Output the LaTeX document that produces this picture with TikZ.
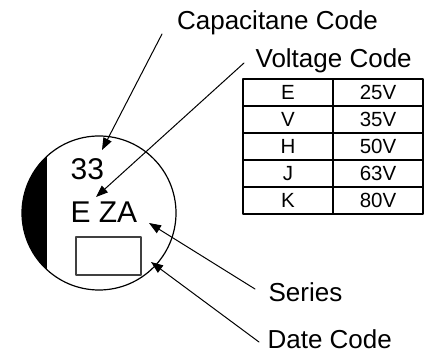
\documentclass[tikz,border=0pt]{standalone}
\usepackage{fontspec}
\setmainfont{Liberation Sans}
\usetikzlibrary{arrows.meta}

\tikzset{
  lbl/.style={anchor=base west, inner sep=0pt, font=\fontsize{26}{32}\selectfont},
  printtxt/.style={anchor=base west, inner sep=0pt, font=\fontsize{30}{36}\selectfont},
  cell/.style={draw, line width=1.2pt, minimum width=90pt, minimum height=27pt, inner sep=0pt,
               font=\fontsize{20.5}{25}\selectfont},
  ptr/.style={line width=1.0pt, -{Triangle[length=12pt, width=9pt]}}
}

\begin{document}
\begin{tikzpicture}[x=1pt, y=-1pt, line width=1.2pt, line cap=round, line join=round]

  %% ════ 电容顶面（圆 + 左侧黑色极性带）════
  \begin{scope}
    \clip (99,213) circle [radius=77pt];
    \fill[black] (0,0) rectangle (47,352);
  \end{scope}
  \node[circle, draw, line width=1.2pt, minimum size=154pt, inner sep=0pt] (top) at (99,213) {};

  %% ════ 顶面印字 ════
  \node[printtxt] (capval) at (70,180) {33};
  \node[printtxt] (series) at (70,223) {E ZA};
  \node[draw=black!75, line width=1.2pt, minimum width=65pt, minimum height=38pt, inner sep=0pt] (datebox) at (108.5,256) {};

  %% ════ 外部标签 ════
  \node[lbl] (captext)    at (176.5,30)  {Capacitane Code};
  \node[lbl] (volttext)   at (255,68)    {Voltage Code};
  \node[lbl] (seriestext) at (268,302)   {Series};
  \node[lbl] (datetext)   at (267,349)   {Date Code};

  %% ════ 电压代码表 ════
  \foreach \code/\volt [count=\i] in {E/25V, V/35V, H/50V, J/63V, K/80V} {
    \node[cell] (code\i) at (288,{79+27*(\i-0.5)}) {\code};
    \node[cell] (volt\i) at (378,{79+27*(\i-0.5)}) {\volt};
  }

  %% ════ 指引箭头（尾端/尖端坐标）════
  \coordinate (captail)    at (162,34);   \coordinate (captip)    at (102,150);
  \coordinate (volttail)   at (244,63);   \coordinate (volttip)   at (96,197);
  \coordinate (seriestail) at (255,289);  \coordinate (seriestip) at (149,223);
  \coordinate (datetail)   at (259,342);  \coordinate (datetip)   at (151,262);

  \draw[ptr] (captail)    -- (captip);
  \draw[ptr] (volttail)   -- (volttip);
  \draw[ptr] (seriestail) -- (seriestip);
  \draw[ptr] (datetail)   -- (datetip);

  % 钉死画布
  \pgfresetboundingbox
  \path[use as bounding box] (0,0) rectangle (424,352);
\end{tikzpicture}
\end{document}
